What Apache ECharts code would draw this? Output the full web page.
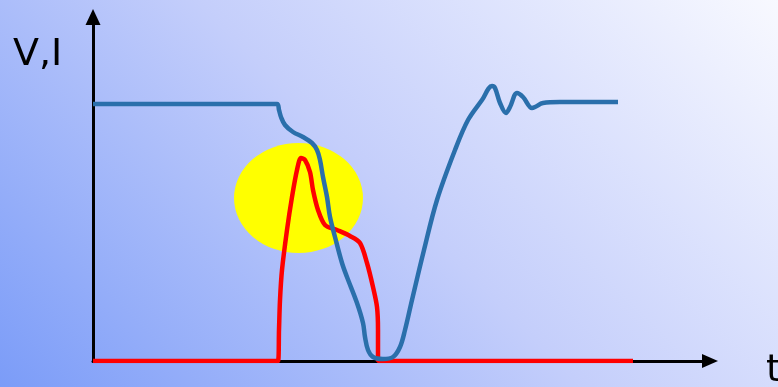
<!DOCTYPE html>
<html>
<head>
<meta charset="utf-8">
<script src="https://cdn.jsdelivr.net/npm/echarts@6/dist/echarts.min.js"></script>
<style>
html,body{margin:0;padding:0;}
#c{width:778px;height:387px;}
</style>
</head>
<body>
<div id="c"></div>
<script>
// Voltage (blue) trace: time and value (arbitrary units)
var voltageT = [0,184,186,188,192,200,210,219,224,227,230,234,237,242,249,254,264,270,272,275,280,290,300,307,312,319,331,344,362,375,389,399,402,407,413,417,424,430,439,442,450,467,525];
var voltageV = [257,257,251,244,236,229,224,218,211,201,184,164,144,124,98,84,58,38,24,11,4,2,4,14,31,61,111,161,211,241,261,275,273,258,248,254,268,264,253,254,258,259,259];
// Current (red) trace
var currentT = [0,185,186,187,189,194,199,204,208,212,217,220,225,232,244,257,267,274,280,284,285,285,540];
var currentV = [0,0,31,61,91,131,164,191,203,201,189,171,151,136,131,125,118,98,74,54,31,0,0];
// Highlight ellipse centre
var highlightT = [205.5];
var highlightV = [163];
var axisNames = ['t', 'V,I'];

function zip(a, b){ return a.map(function(v,i){ return [v, b[i]]; }); }

var chart = echarts.init(document.getElementById('c'));
chart.setOption({
  animation: false,
  backgroundColor: {
    type: 'linear', global: true,
    x: 0, y: 387, x2: 582.5, y2: -195.5,
    colorStops: [
      {offset: 0, color: '#7b9cf8'},
      {offset: 0.5, color: '#c4cefb'},
      {offset: 1, color: '#f8f9ff'}
    ]
  },
  grid: {left: 93, right: 68, top: 17, bottom: 26},
  xAxis: {
    type: 'value', min: 0, max: 617,
    axisLine: {show: true, symbol: ['none','triangle'], symbolSize: [14,16],
      lineStyle: {color: '#000', width: 3}},
    axisTick: {show: false}, axisLabel: {show: false}, splitLine: {show: false}
  },
  yAxis: {
    type: 'value', min: 0, max: 344,
    axisLine: {show: true, symbol: ['none','triangle'], symbolSize: [15,16],
      lineStyle: {color: '#000', width: 3}},
    axisTick: {show: false}, axisLabel: {show: false}, splitLine: {show: false}
  },
  graphic: [
    {type: 'text', left: 13, top: 36, style: {text: axisNames[1], font: '38px "DejaVu Sans"', fill: '#000'}},
    {type: 'text', left: 766, top: 352, style: {text: axisNames[0], font: '38px "DejaVu Sans"', fill: '#000'}}
  ],
  series: [
    {
      type: 'scatter', data: zip(highlightT, highlightV),
      symbol: 'circle', symbolSize: [129, 110],
      itemStyle: {color: '#ffff00', opacity: 1}, z: 1, silent: true
    },
    {
      type: 'line', data: zip(currentT, currentV), showSymbol: false, smooth: 0.3,
      lineStyle: {color: '#ff0000', width: 4.5}, z: 3
    },
    {
      type: 'line', data: zip(voltageT, voltageV), showSymbol: false, smooth: 0.35,
      lineStyle: {color: '#2a6fab', width: 4.5}, z: 4
    }
  ]
});
</script>
</body>
</html>
